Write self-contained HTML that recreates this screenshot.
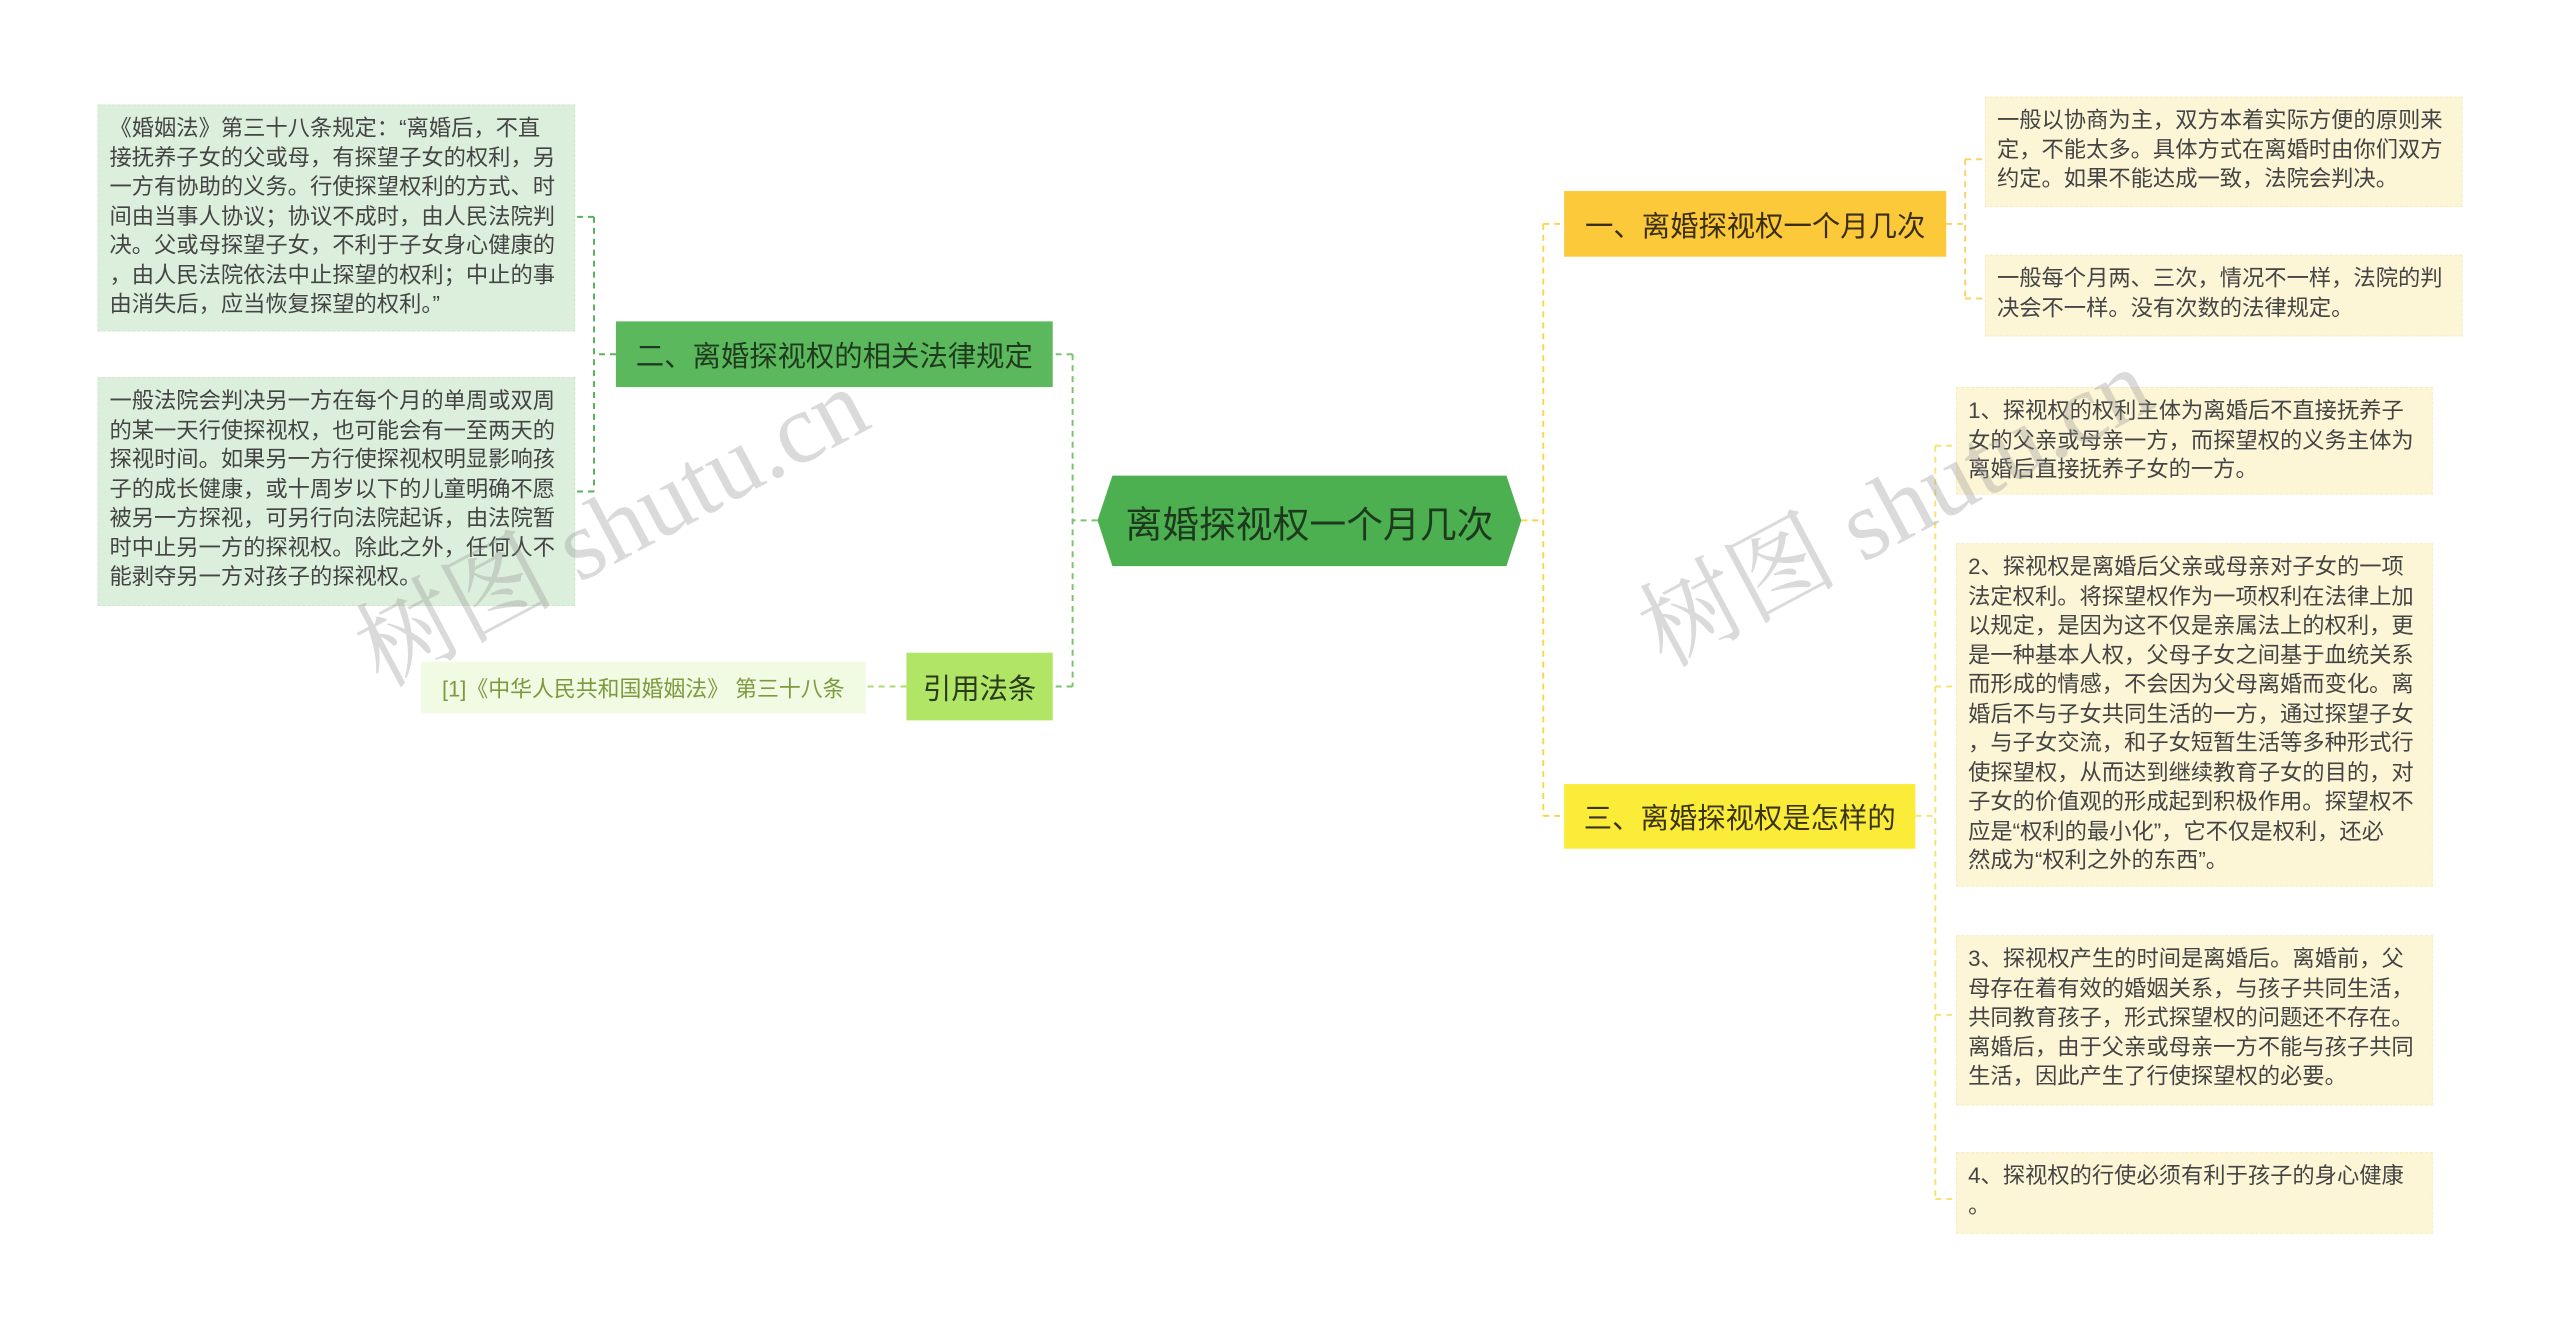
<!DOCTYPE html>
<html><head><meta charset="utf-8"><style>
body{margin:0;width:2560px;height:1332px;background:#fff;position:relative;overflow:hidden;font-family:"Liberation Sans","Noto Sans CJK SC",sans-serif}
#w{position:absolute;left:0;top:0;width:2560px;height:1332px;transform:scale(0.995);transform-origin:0 0}
.b{position:absolute;box-sizing:border-box;white-space:nowrap}
.t{font-size:22.4px;line-height:29.5px;color:#444;padding:8px 11px}
.g{background:#dcefdc;border:1px dashed #cfe5cf}
.y{background:#fdf6d6;border:1px dashed #f6ecc0}
.n{display:flex;align-items:center;justify-content:center;font-size:28.5px;color:#333}
.wm{position:absolute;font-family:"Liberation Serif","Noto Serif CJK SC",serif;font-size:100px;color:rgba(150,150,150,0.35);transform:rotate(-28deg);white-space:nowrap}
</style></head><body><div id="w">
<svg width="2560" height="1332" style="position:absolute;left:0;top:0">
<g fill="none" stroke-width="2" stroke-dasharray="6,5">
<path d="M1103 523 H1078 M1078 356 V690 M1078 356 H1058 M1078 690 H1058" stroke="#7cc36f"/>
<path d="M619 356 H597 M597 218 V494 M597 218 H578 M597 494 H578" stroke="#5bb05b"/>
<path d="M911 690 H870" stroke="#a9dd6a"/>
<path d="M1529 523 H1551 M1551 225 V820 M1551 225 H1572 M1551 820 H1572" stroke="#f7d84a"/>
<path d="M1956 225 H1975 M1975 160 V300 M1975 160 H1995 M1975 300 H1995" stroke="#f8d56a"/>
<path d="M1925 820 H1945 M1945 448 V1205 M1945 448 H1966 M1945 690 H1966 M1945 1020 H1966 M1945 1205 H1966" stroke="#f5e577"/>
</g>
<polygon points="1118,478 1514,478 1529,523 1514,569 1118,569 1103,523" fill="#4caf50"/>
</svg>
<div class="b n" style="left:1103px;top:478px;width:426px;height:91px;font-size:37px;color:#1e3a1e">离婚探视权一个月几次</div>
<div class="b n" style="left:619px;top:323px;width:439px;height:66px;background:#5cb85c;color:#1f3b1f">二、离婚探视权的相关法律规定</div>
<div class="b n" style="left:911px;top:656px;width:147px;height:68px;background:#b0e566;color:#2a3a1a">引用法条</div>
<div class="b n" style="left:423px;top:665px;width:447px;height:52px;background:#f1fae3;color:#7d9a3d;font-size:22px">[1]《中华人民共和国婚姻法》 第三十八条</div>
<div class="b n" style="left:1572px;top:192px;width:384px;height:66px;background:#fcc93a;color:#3a2e10">一、离婚探视权一个月几次</div>
<div class="b n" style="left:1572px;top:788px;width:353px;height:65px;background:#fcec3a;color:#3a3410">三、离婚探视权是怎样的</div>
<div class="b t g" style="left:98px;top:105px;width:480px;height:228px">《婚姻法》第三十八条规定：“离婚后，不直<br>接抚养子女的父或母，有探望子女的权利，另<br>一方有协助的义务。行使探望权利的方式、时<br>间由当事人协议；协议不成时，由人民法院判<br>决。父或母探望子女，不利于子女身心健康的<br>，由人民法院依法中止探望的权利；中止的事<br>由消失后，应当恢复探望的权利。”</div>
<div class="b t g" style="left:98px;top:379px;width:480px;height:230px">一般法院会判决另一方在每个月的单周或双周<br>的某一天行使探视权，也可能会有一至两天的<br>探视时间。如果另一方行使探视权明显影响孩<br>子的成长健康，或十周岁以下的儿童明确不愿<br>被另一方探视，可另行向法院起诉，由法院暂<br>时中止另一方的探视权。除此之外，任何人不<br>能剥夺另一方对孩子的探视权。</div>
<div class="b t y" style="left:1995px;top:97px;width:480px;height:111px">一般以协商为主，双方本着实际方便的原则来<br>定，不能太多。具体方式在离婚时由你们双方<br>约定。如果不能达成一致，法院会判决。</div>
<div class="b t y" style="left:1995px;top:256px;width:480px;height:82px">一般每个月两、三次，情况不一样，法院的判<br>决会不一样。没有次数的法律规定。</div>
<div class="b t y" style="left:1966px;top:389px;width:479px;height:108px">1、探视权的权利主体为离婚后不直接抚养子<br>女的父亲或母亲一方，而探望权的义务主体为<br>离婚后直接抚养子女的一方。</div>
<div class="b t y" style="left:1966px;top:546px;width:479px;height:345px">2、探视权是离婚后父亲或母亲对子女的一项<br>法定权利。将探望权作为一项权利在法律上加<br>以规定，是因为这不仅是亲属法上的权利，更<br>是一种基本人权，父母子女之间基于血统关系<br>而形成的情感，不会因为父母离婚而变化。离<br>婚后不与子女共同生活的一方，通过探望子女<br>，与子女交流，和子女短暂生活等多种形式行<br>使探望权，从而达到继续教育子女的目的，对<br>子女的价值观的形成起到积极作用。探望权不<br>应是“权利的最小化”，它不仅是权利，还必<br>然成为“权利之外的东西”。</div>
<div class="b t y" style="left:1966px;top:940px;width:479px;height:171px">3、探视权产生的时间是离婚后。离婚前，父<br>母存在着有效的婚姻关系，与孩子共同生活，<br>共同教育孩子，形式探望权的问题还不存在。<br>离婚后，由于父亲或母亲一方不能与孩子共同<br>生活，因此产生了行使探望权的必要。</div>
<div class="b t y" style="left:1966px;top:1158px;width:479px;height:82px">4、探视权的行使必须有利于孩子的身心健康<br>。</div>
<div class="wm" style="left:330px;top:450px">树图 shutu.cn</div>
<div class="wm" style="left:1620px;top:430px">树图 shutu.cn</div>
</div></body></html>
